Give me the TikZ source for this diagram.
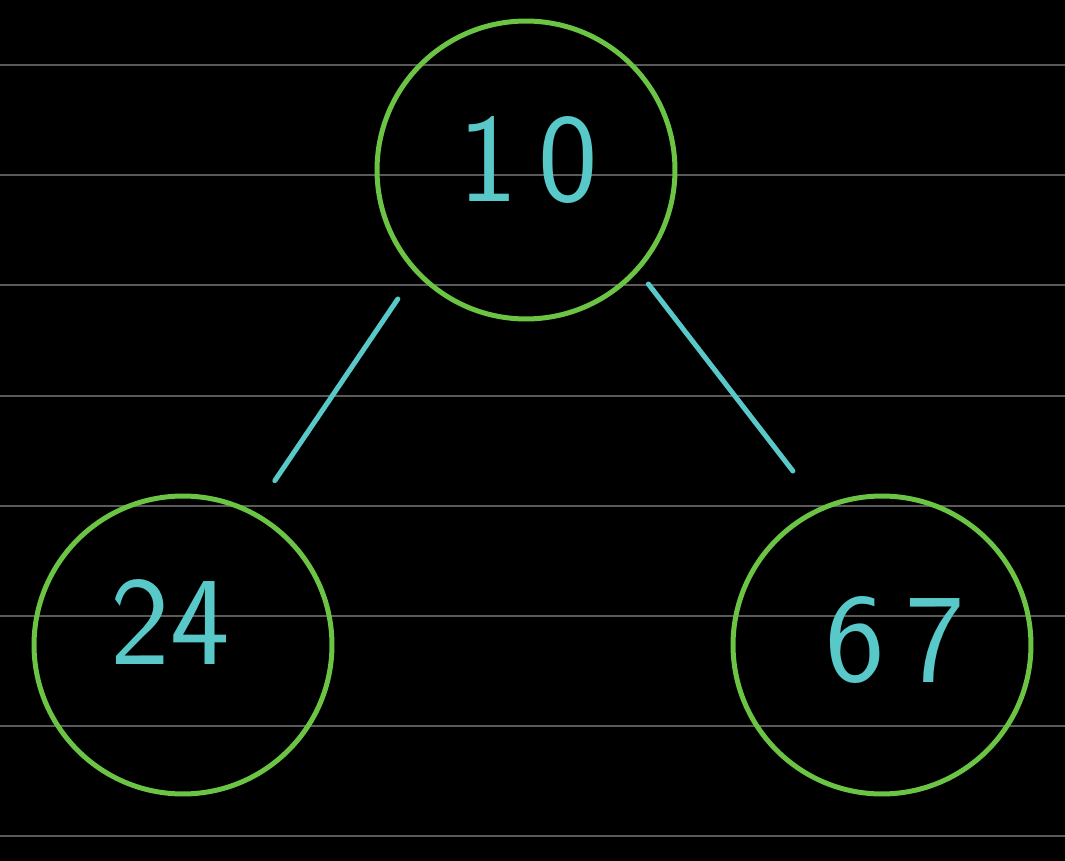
\documentclass[tikz,border=0pt]{standalone}
\usepackage{xcolor}
\usepackage{tikz}
\usetikzlibrary{arrows.meta,positioning}

\definecolor{nodegreen}{RGB}{108,196,68}
\definecolor{inkcyan}{RGB}{88,200,200}
\definecolor{ruling}{RGB}{90,90,90}

\begin{document}
\begin{tikzpicture}[
  x=0.02cm, y=-0.02cm,
  circ/.style={draw=nodegreen, line width=0.1cm, circle, minimum size=5.96cm, inner sep=0pt},
  num/.style={text=inkcyan, font=\sffamily\fontsize{72}{72}\selectfont, inner sep=0pt},
  edge/.style={draw=inkcyan, line width=0.1cm, line cap=round},
  rule/.style={draw=ruling, line width=0.04cm}
]
\fill[black] (0,0) rectangle (1065,861);
\useasboundingbox (0,0) rectangle (1065,861);
\foreach \y in {65,175,285,396,506,616,726,836}
  \draw[rule] (0,\y) -- (1065,\y);

\node[circ] (root) at (526,170) {};
\node[circ] (left) at (183,645) {};
\node[circ] (right) at (882,645) {};

\node[num] (rootval) at (528,160) {1\,0};
\node[num] (leftval) at (170,622) {24};
\node[num] (rightval) at (895,640) {6\,7};

\draw[edge, shorten <=0.62cm, shorten >=0.74cm] (root.223.5) -- (left.62.2);
\draw[edge, shorten <=0.32cm, shorten >=0.9cm] (root.-42.6) -- (right.114.6);
\end{tikzpicture}
\end{document}
